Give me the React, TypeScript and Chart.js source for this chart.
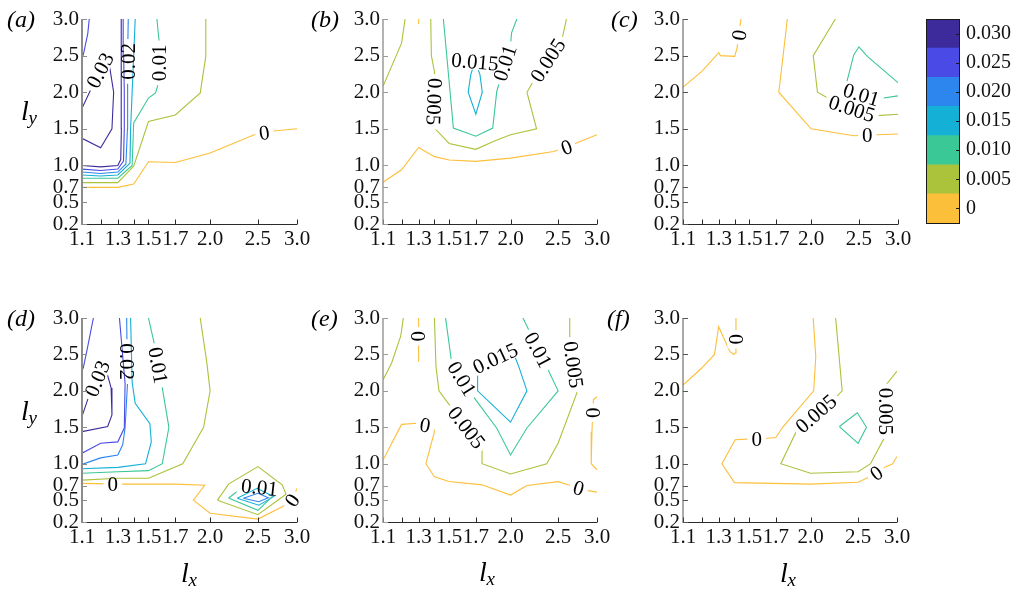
import React, { useEffect, useRef } from "react";
import { Chart, registerables } from "chart.js";

Chart.register(...registerables);

const W = 1017;
const H = 591;

// ---------- levels, ticks ----------
const LEVELS = [0, 0.005, 0.01, 0.015, 0.02, 0.025, 0.03];
const LEVEL_COLORS = ["#fcbf3a", "#abc33b", "#3ac896", "#15b0d6", "#2d86ee", "#4a4be6", "#3d2b9c"];
const CB_LABELS = ["0", "0.005", "0.010", "0.015", "0.020", "0.025", "0.030"];
const CB_BANDS = [1, 1, 1, 1, 1, 1, 1];
const X_TICKS = [1.1, 1.2, 1.3, 1.4, 1.5, 1.7, 2.0, 2.5, 3.0];
const X_TICK_LABELS = [1.1, 1.3, 1.5, 1.7, 2.0, 2.5, 3.0];
const Y_TICKS = [0.2, 0.5, 0.7, 1.0, 1.5, 2.0, 2.5, 3.0];
const X_RANGE = [1.1, 3.0];
const Y_RANGE = [0.2, 3.0];

type Pt = [number, number];
type Piece = [number, Pt[]]; // level, polyline (lx, ly)
type Lab = [number, number, number, number]; // level, lx, ly, rotation (deg)

// ---------- (a) ----------
const A_LINES: Piece[] = [
  [0.025, [[1.138, 3.0], [1.13, 2.8], [1.11, 2.55], [1.1, 2.45]]],
  [0.03, [[1.1, 1.78], [1.145, 2.03], [1.24, 2.52], [1.275, 2.0], [1.265, 1.5], [1.2, 1.24], [1.1, 1.37]]],
  [0.03, [[1.1, 1.0], [1.2, 0.98], [1.3, 1.0], [1.318, 1.08], [1.322, 1.5], [1.322, 2.0], [1.32, 3.0]]],
  [0.025, [[1.1, 0.95], [1.2, 0.93], [1.3, 0.95], [1.335, 1.06], [1.34, 1.5], [1.34, 2.0], [1.336, 2.5], [1.333, 3.0]]],
  [0.02, [[1.1, 0.91], [1.2, 0.89], [1.3, 0.91], [1.35, 1.02], [1.36, 1.5], [1.36, 2.0], [1.362, 2.5], [1.365, 3.0]]],
  [0.015, [[1.1, 0.87], [1.2, 0.855], [1.3, 0.87], [1.376, 1.03], [1.38, 1.5], [1.39, 2.0], [1.4, 2.5], [1.41, 3.0]]],
  [0.01, [[1.1, 0.825], [1.3, 0.825], [1.39, 1.0], [1.4, 1.58], [1.5, 1.92], [1.55, 1.99], [1.565, 2.08], [1.578, 2.67], [1.56, 3.0]]],
  [0.005, [[1.1, 0.765], [1.3, 0.765], [1.4, 0.99], [1.5, 1.6], [1.7, 1.69], [1.91, 1.99], [1.96, 2.49], [1.96, 3.0]]],
  [0, [[1.1, 0.7], [1.3, 0.7], [1.4, 0.745], [1.5, 1.05], [1.7, 1.04], [2.0, 1.17], [2.5, 1.44], [2.69, 1.47], [3.0, 1.5]]],
];
const A_LABELS: Lab[] = [
  [0.03, 1.195, 2.3, -63],
  [0.02, 1.362, 2.42, -90],
  [0.01, 1.572, 2.4, -90],
  [0, 2.575, 1.452, -8],
];

// ---------- (b) ----------
const B_LINES: Piece[] = [
  [0.005, [[1.22, 3.0], [1.2, 2.67], [1.1, 2.08]]],
  [0, [[1.3, 3.0], [1.3, 2.93]]],
  [0.005, [[1.376, 3.0], [1.38, 2.5], [1.4, 2.28], [1.4, 1.87], [1.405, 1.5], [1.5, 1.3], [1.7, 1.22], [1.85, 1.33], [2.0, 1.42], [2.26, 1.5], [2.16, 2.0], [2.23, 2.16], [2.545, 2.72], [2.6, 3.0]]],
  [0.01, [[2.06, 3.0], [2.01, 2.81], [2.0, 2.65], [1.875, 2.01], [1.84, 1.51], [1.7, 1.4], [1.53, 1.51], [1.46, 3.0]]],
  [0.015, [[1.693, 2.42], [1.733, 2.24], [1.752, 2.0], [1.7, 1.7], [1.64, 2.0], [1.66, 2.24], [1.693, 2.42]]],
  [0, [[1.1, 0.77], [1.2, 0.94], [1.3, 1.245], [1.4, 1.12], [1.5, 1.075], [1.7, 1.055], [2.0, 1.1], [2.45, 1.19], [2.71, 1.3], [3.0, 1.42]]],
];
const B_LABELS: Lab[] = [
  [0.005, 1.4, 1.87, 92],
  [0.005, 2.38, 2.44, -57],
  [0.01, 1.945, 2.4, -72],
  [0.015, 1.693, 2.42, 5],
  [0, 2.6, 1.253, -20],
];

// ---------- (c) ----------
const C_LINES: Piece[] = [
  [0, [[1.1, 2.07], [1.2, 2.28], [1.3, 2.54], [1.31, 2.5], [1.4, 2.49], [1.415, 2.6], [1.442, 3.0]]],
  [0, [[1.79, 3.0], [1.755, 2.5], [1.72, 2.0], [2.0, 1.5], [2.44, 1.405], [2.72, 1.42], [3.0, 1.43]]],
  [0.005, [[2.24, 3.0], [2.02, 2.5], [2.06, 2.0], [2.175, 1.91], [2.72, 1.68], [3.0, 1.7]]],
  [0.01, [[3.0, 2.13], [2.6, 2.49], [2.5, 2.62], [2.44, 2.51], [2.35, 2.08], [2.74, 1.91], [3.0, 1.95]]],
];
const C_LABELS: Lab[] = [
  [0, 1.428, 2.78, -82],
  [0, 2.6, 1.413, 0],
  [0.005, 2.42, 1.78, 18],
  [0.01, 2.53, 1.97, 17],
];

// ---------- (d) ----------
const D_LINES: Piece[] = [
  [0.025, [[1.16, 3.0], [1.13, 2.61], [1.107, 2.32], [1.1, 2.28]]],
  [0.03, [[1.1, 1.65], [1.135, 1.92], [1.22, 2.38], [1.26, 2.04], [1.265, 1.67], [1.24, 1.51], [1.1, 1.44]]],
  [0.025, [[1.1, 1.145], [1.2, 1.28], [1.3, 1.3], [1.34, 1.49], [1.345, 2.1], [1.31, 3.0]]],
  [0.02, [[1.1, 0.99], [1.2, 1.08], [1.3, 1.12], [1.33, 1.26], [1.345, 1.49], [1.36, 2.09], [1.355, 3.0]]],
  [0.015, [[1.1, 0.93], [1.3, 0.95], [1.48, 1.0], [1.52, 1.3], [1.51, 1.55], [1.41, 1.83], [1.39, 2.12], [1.38, 3.0]]],
  [0.01, [[1.1, 0.87], [1.3, 0.89], [1.5, 0.905], [1.6, 1.0], [1.65, 1.5], [1.6, 2.04], [1.54, 2.66], [1.5, 3.0]]],
  [0.005, [[1.1, 0.775], [1.3, 0.8], [1.5, 0.8], [1.76, 1.0], [1.94, 1.5], [2.0, 2.0], [1.97, 2.38], [1.91, 3.0]]],
  [0, [[1.1, 0.73], [1.315, 0.72], [1.7, 0.72], [1.95, 0.705], [1.85, 0.5], [2.0, 0.32], [2.5, 0.24], [2.8, 0.41], [2.93, 0.5], [3.0, 0.66]]],
  [0.005, [[2.07, 0.5], [2.18, 0.72], [2.5, 0.96], [2.8, 0.71], [2.85, 0.58], [2.5, 0.3], [2.07, 0.5]]],
  [0.01, [[2.18, 0.53], [2.3, 0.65], [2.5, 0.7], [2.72, 0.6], [2.5, 0.36], [2.18, 0.53]]],
  [0.015, [[2.27, 0.526], [2.49, 0.663], [2.69, 0.548], [2.51, 0.43], [2.27, 0.526]]],
  [0.02, [[2.335, 0.526], [2.5, 0.594], [2.624, 0.534], [2.51, 0.479], [2.335, 0.526]]],
];
const D_LABELS: Lab[] = [
  [0.03, 1.18, 2.17, -68],
  [0.02, 1.357, 2.4, 90],
  [0.01, 1.572, 2.35, 80],
  [0, 1.27, 0.72, 0],
  [0.01, 2.52, 0.68, 6],
  [0, 2.93, 0.5, -55],
];

// ---------- (e) ----------
const E_LINES: Piece[] = [
  [0.005, [[1.21, 3.0], [1.195, 2.75], [1.145, 2.38], [1.1, 2.15]]],
  [0, [[1.3, 3.0], [1.3, 2.6], [1.3, 2.4]]],
  [0.005, [[1.4, 3.0], [1.41, 2.335], [1.43, 2.0], [1.52, 1.76], [1.63, 1.5], [1.75, 1.24], [1.75, 1.0], [2.0, 0.86], [2.37, 1.0], [2.5, 1.28], [2.73, 1.97], [2.69, 2.36], [2.64, 2.75], [2.64, 3.0]]],
  [0.01, [[1.475, 3.0], [1.517, 2.4], [1.595, 2.17], [1.68, 1.92], [1.874, 1.49], [2.0, 1.12], [2.16, 1.49], [2.5, 2.0], [2.28, 2.565], [2.12, 3.0]]],
  [0.015, [[1.714, 2.35], [1.714, 2.0], [2.0, 1.57], [2.16, 2.0], [2.08, 2.33], [2.02, 2.55], [1.714, 2.35]]],
  [0, [[1.1, 1.05], [1.2, 1.54], [1.29, 1.555], [1.39, 1.51], [1.4, 1.44], [1.345, 1.0], [1.4, 0.82], [1.5, 0.755], [1.75, 0.71], [2.0, 0.57], [2.16, 0.7], [2.5, 0.754], [2.63, 0.709], [2.88, 0.631], [3.0, 0.61]]],
  [0, [[3.0, 1.92], [2.95, 1.88], [2.94, 1.7], [2.93, 1.44], [2.92, 1.0], [3.0, 0.915]]],
];
const E_LABELS: Lab[] = [
  [0, 1.3, 2.75, 90],
  [0.01, 1.595, 2.17, 58],
  [0.005, 1.63, 1.5, 52],
  [0.01, 2.28, 2.565, 62],
  [0.005, 2.69, 2.36, 82],
  [0.015, 1.86, 2.45, -25],
  [0, 1.34, 1.533, 10],
  [0, 2.755, 0.67, 16],
  [0, 2.94, 1.7, 90],
];

// ---------- (f) ----------
const F_LINES: Piece[] = [
  [0, [[1.1, 2.08], [1.2, 2.31], [1.275, 2.5], [1.3, 2.88], [1.37, 2.54], [1.395, 2.5], [1.405, 2.52], [1.41, 2.71], [1.41, 3.0]]],
  [0, [[2.025, 3.0], [2.05, 2.47], [2.03, 2.0], [1.76, 1.51], [1.7, 1.36], [1.63, 1.35], [1.554, 1.345], [1.405, 1.33], [1.32, 1.0], [1.4, 0.74], [2.0, 0.72], [2.5, 0.745], [2.64, 0.82], [2.72, 0.875], [2.85, 0.96], [2.94, 1.0], [3.0, 1.1]]],
  [0.005, [[2.25, 3.0], [2.32, 2.0], [2.26, 1.92], [2.05, 1.69], [1.87, 1.44], [1.74, 1.0], [2.0, 0.87], [2.5, 0.89], [2.65, 1.0], [2.85, 1.4], [2.85, 1.72], [2.85, 2.08], [3.0, 2.27]]],
  [0.01, [[2.29, 1.51], [2.49, 1.7], [2.6, 1.5], [2.5, 1.28], [2.29, 1.51]]],
];
const F_LABELS: Lab[] = [
  [0, 1.41, 2.71, 90],
  [0, 1.554, 1.345, 0],
  [0, 2.72, 0.875, -35],
  [0.005, 2.05, 1.69, -41],
  [0.005, 2.85, 1.72, 90],
];

// ---------- layout / style ----------
const SERIF = '"Liberation Serif", "Times New Roman", serif';
const TICK_FONT = { family: SERIF, size: 21 };
const LABEL_PX = 21;
const TICK_LEN = 5;
const YW = 60;
const XH = 40;

const PANELS = [
  { lines: A_LINES, labels: A_LABELS, box: [82, 19, 297, 224], yc: "#8c8c8c", yw: 2 },
  { lines: B_LINES, labels: B_LABELS, box: [383, 19, 597, 224], yc: "#9a9a9a", yw: 1.5 },
  { lines: C_LINES, labels: C_LABELS, box: [683, 19, 898, 224], yc: "#555555", yw: 1 },
  { lines: D_LINES, labels: D_LABELS, box: [82, 318, 297, 522], yc: "#8c8c8c", yw: 2 },
  { lines: E_LINES, labels: E_LABELS, box: [383, 318, 597, 522], yc: "#9a9a9a", yw: 1.5 },
  { lines: F_LINES, labels: F_LABELS, box: [683, 318, 897, 522], yc: "#555555", yw: 1 },
];
const CB_BOX = [926, 19, 959, 223];

const TAGS: [string, number, number][] = [
  ["(a)", 7, 27], ["(b)", 311, 27], ["(c)", 611, 27],
  ["(d)", 7, 326], ["(e)", 311, 326], ["(f)", 607, 326],
];
const Y_TITLES: [number, number][] = [[21, 120], [21, 420]];
const X_TITLES: [number, number][] = [[181, 582], [479, 581], [780, 582]];

const levelColor = (lv: number) => LEVEL_COLORS[LEVELS.indexOf(lv)];
const levelText = (lv: number) => String(lv);

function makeContourPlugin(labels: Lab[]) {
  let saved = false;
  return {
    id: "contourLabels",
    beforeDatasetDraw(chart: any, args: any) {
      const ds = chart.data.datasets[args.index];
      const mine = labels.filter((lb) => lb[0] === ds.level);
      if (!mine.length) return;
      const ctx = chart.ctx;
      ctx.save();
      saved = true;
      ctx.font = `${LABEL_PX}px ${SERIF}`;
      ctx.beginPath();
      ctx.rect(0, 0, chart.width, chart.height);
      for (const [lv, x, y, ang] of mine) {
        const px = chart.scales.x.getPixelForValue(x);
        const py = chart.scales.y.getPixelForValue(y);
        const w = ctx.measureText(levelText(lv)).width + 8;
        const h = 17;
        const a = (ang * Math.PI) / 180;
        const c = Math.cos(a);
        const s = Math.sin(a);
        const pts = [[-w / 2, -h / 2], [w / 2, -h / 2], [w / 2, h / 2], [-w / 2, h / 2]].map(
          ([u, v]) => [px + u * c - v * s, py + u * s + v * c]
        );
        ctx.moveTo(pts[0][0], pts[0][1]);
        for (let i = 1; i < 4; i++) ctx.lineTo(pts[i][0], pts[i][1]);
        ctx.closePath();
      }
      ctx.clip("evenodd");
    },
    afterDatasetDraw(chart: any) {
      if (saved) {
        chart.ctx.restore();
        saved = false;
      }
    },
    afterDatasetsDraw(chart: any) {
      const ctx = chart.ctx;
      ctx.save();
      ctx.font = `${LABEL_PX}px ${SERIF}`;
      ctx.fillStyle = "#000";
      ctx.textAlign = "center";
      ctx.textBaseline = "alphabetic";
      for (const [lv, x, y, ang] of labels) {
        const px = chart.scales.x.getPixelForValue(x);
        const py = chart.scales.y.getPixelForValue(y);
        ctx.save();
        ctx.translate(px, py);
        ctx.rotate((ang * Math.PI) / 180);
        ctx.fillText(levelText(lv), 0, LABEL_PX * 0.34);
        ctx.restore();
      }
      ctx.restore();
    },
  };
}

function makeAxesPlugin(p: any) {
  return {
    id: "inwardAxes",
    afterDraw(chart: any) {
      const { ctx, chartArea: a, scales } = chart;
      ctx.save();
      const by = Math.round(a.bottom) + 0.5;
      ctx.strokeStyle = "#2a2a2a";
      ctx.lineWidth = 1;
      ctx.beginPath();
      ctx.moveTo(a.left, by);
      ctx.lineTo(a.right, by);
      for (const v of X_TICKS) {
        const x = Math.round(scales.x.getPixelForValue(v)) + 0.5;
        ctx.moveTo(x, by);
        ctx.lineTo(x, by - TICK_LEN);
      }
      ctx.stroke();
      ctx.strokeStyle = p.yc;
      ctx.beginPath();
      for (const v of Y_TICKS) {
        const y = Math.round(scales.y.getPixelForValue(v)) + 0.5;
        ctx.moveTo(a.left, y);
        ctx.lineTo(a.left + TICK_LEN, y);
      }
      ctx.stroke();
      ctx.lineWidth = p.yw;
      ctx.beginPath();
      ctx.moveTo(a.left, a.top);
      ctx.lineTo(a.left, by + 0.5);
      ctx.stroke();
      ctx.restore();
    },
  };
}

function makePanel(canvas: HTMLCanvasElement, p: any) {
  const [l, t, r, b] = p.box;
  return new Chart(canvas, {
    type: "scatter",
    data: {
      datasets: p.lines.map(([lv, pts]: Piece) => ({
        level: lv,
        data: pts.map(([x, y]) => ({ x, y })),
        showLine: true,
        borderColor: levelColor(lv),
        backgroundColor: levelColor(lv),
        borderWidth: 1.1,
        pointRadius: 0,
        pointHoverRadius: 0,
        tension: 0,
        fill: false,
      })),
    } as any,
    options: {
      responsive: false,
      animation: false,
      devicePixelRatio: 1,
      events: [],
      layout: { autoPadding: false, padding: { left: l - YW, top: t, right: W - r, bottom: H - b - XH } },
      plugins: { legend: { display: false }, tooltip: { enabled: false } },
      scales: {
        x: {
          type: "logarithmic",
          min: X_RANGE[0],
          max: X_RANGE[1],
          afterBuildTicks: (s: any) => {
            s.ticks = X_TICKS.map((v) => ({ value: v }));
          },
          afterFit: (s: any) => {
            s.height = XH;
          },
          grid: { display: false, drawTicks: false },
          border: { display: false },
          ticks: {
            autoSkip: false,
            maxRotation: 0,
            minRotation: 0,
            padding: 3,
            color: "#111",
            font: TICK_FONT,
            callback: (v: any) => (X_TICK_LABELS.includes(Number(v)) ? Number(v).toFixed(1) : ""),
          },
        },
        y: {
          type: "linear",
          min: Y_RANGE[0],
          max: Y_RANGE[1],
          afterBuildTicks: (s: any) => {
            s.ticks = Y_TICKS.map((v) => ({ value: v }));
          },
          afterFit: (s: any) => {
            s.width = YW;
          },
          grid: { display: false, drawTicks: false },
          border: { display: false },
          ticks: {
            autoSkip: false,
            padding: 3,
            color: "#111",
            font: TICK_FONT,
            callback: (v: any) => Number(v).toFixed(1),
          },
        },
      },
    } as any,
    plugins: [makeContourPlugin(p.labels), makeAxesPlugin(p)],
  });
}

const frameAndTextPlugin = {
  id: "cbFrameText",
  afterDraw(chart: any) {
    const { ctx, chartArea: a, scales } = chart;
    ctx.save();
    ctx.strokeStyle = "#1a1a1a";
    ctx.lineWidth = 1;
    ctx.strokeRect(Math.round(a.left) + 0.5, Math.round(a.top) + 0.5, Math.round(a.right - a.left), Math.round(a.bottom - a.top));
    ctx.beginPath();
    LEVELS.forEach((_, i) => {
      const y = Math.round(scales.y.getPixelForValue(i + 0.5)) + 0.5;
      ctx.moveTo(a.right, y);
      ctx.lineTo(a.right - 3, y);
    });
    ctx.stroke();
    // panel tags and axis titles
    ctx.fillStyle = "#000";
    ctx.textBaseline = "alphabetic";
    ctx.textAlign = "left";
    ctx.font = `italic 24px ${SERIF}`;
    for (const [t, x, y] of TAGS) ctx.fillText(t, x, y);
    for (const [x, y] of Y_TITLES) {
      ctx.font = `italic 28px ${SERIF}`;
      ctx.fillText("l", x, y);
      ctx.font = `italic 19px ${SERIF}`;
      ctx.fillText("y", x + 7.5, y + 4);
    }
    for (const [x, y] of X_TITLES) {
      ctx.font = `italic 28px ${SERIF}`;
      ctx.fillText("l", x, y);
      ctx.font = `italic 19px ${SERIF}`;
      ctx.fillText("x", x + 7.5, y + 4);
    }
    ctx.restore();
  },
};

function makeColorbar(canvas: HTMLCanvasElement) {
  const [l, t, r, b] = CB_BOX;
  const CBW = 55;
  return new Chart(canvas, {
    type: "bar",
    data: {
      labels: [""],
      datasets: LEVELS.map((lv, i) => ({
        label: String(lv),
        data: [CB_BANDS[i]],
        backgroundColor: LEVEL_COLORS[i],
        borderWidth: 0,
        barPercentage: 1,
        categoryPercentage: 1,
      })),
    },
    options: {
      responsive: false,
      animation: false,
      devicePixelRatio: 1,
      events: [],
      layout: { autoPadding: false, padding: { left: l, top: t, right: W - r - CBW, bottom: H - b } },
      plugins: { legend: { display: false }, tooltip: { enabled: false } },
      scales: {
        x: { display: false, stacked: true },
        y: {
          position: "right",
          stacked: true,
          min: 0,
          max: CB_BANDS.reduce((s, v) => s + v, 0),
          afterBuildTicks: (s: any) => {
            s.ticks = LEVELS.map((_, i) => ({ value: i + 0.5 }));
          },
          afterFit: (s: any) => {
            s.width = CBW;
          },
          grid: { display: false, drawTicks: false },
          border: { display: false },
          ticks: {
            autoSkip: false,
            padding: 7,
            color: "#111",
            font: { family: SERIF, size: 20 },
            callback: (v: any) => CB_LABELS[Math.floor(Number(v))],
          },
        },
      },
    } as any,
    plugins: [frameAndTextPlugin],
  });
}

export default function App() {
  const refs = useRef<(HTMLCanvasElement | null)[]>([]);
  useEffect(() => {
    const charts: Chart[] = [];
    PANELS.forEach((p, i) => {
      const cv = refs.current[i];
      if (cv) charts.push(makePanel(cv, p));
    });
    const cb = refs.current[PANELS.length];
    if (cb) charts.push(makeColorbar(cb));
    return () => charts.forEach((c) => c.destroy());
  }, []);
  const n = PANELS.length + 1;
  return (
    <div style={{ position: "absolute", left: 0, top: 0, width: W, height: H, background: "#fff", overflow: "hidden" }}>
      {Array.from({ length: n }).map((_, i) => (
        <canvas
          key={i}
          ref={(el) => {
            refs.current[i] = el;
          }}
          width={W}
          height={H}
          style={{ position: "absolute", left: 0, top: 0, width: W, height: H }}
        />
      ))}
    </div>
  );
}
